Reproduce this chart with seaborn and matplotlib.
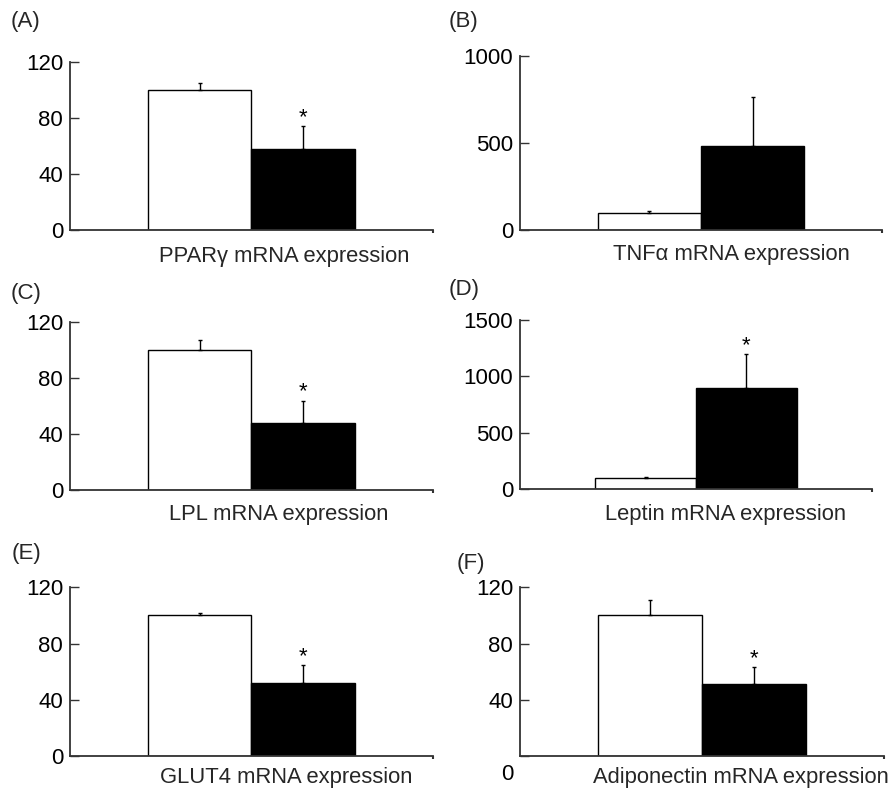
import numpy as np
import pandas as pd
import matplotlib
matplotlib.use("Agg")
import matplotlib.pyplot as plt
import matplotlib.transforms as mtransforms
import seaborn as sns

sns.set_theme(style="white")
plt.rcParams['font.family'] = ['Liberation Sans', 'DejaVu Sans']

# ---- data ----
panel_tags = ['(A)', '(B)', '(C)', '(D)', '(E)', '(F)']
genes = ['PPARγ mRNA expression', 'TNFα mRNA expression', 'LPL mRNA expression',
         'Leptin mRNA expression', 'GLUT4 mRNA expression', 'Adiponectin mRNA expression']
groups = ['Control', 'Treated']
control_mean = [100, 100, 100, 100, 100, 100]
control_err = [5, 8, 7, 4, 2, 11]
treated_mean = [58, 483, 48, 894, 52, 51]
treated_err = [16, 280, 15.5, 300, 12.5, 12]
significant = [True, False, True, True, True, True]
y_max = [120, 1000, 120, 1500, 120, 120]
y_step = [40, 500, 40, 500, 40, 40]

# ---- layout (pixels) ----
W, H = 895, 789
boxes = [  # left, right, top, bottom
    (70, 433, 61.7, 230),
    (520, 882, 56, 230),
    (70, 433, 321.7, 490),
    (520, 872, 320, 489),
    (70, 433, 587.3, 756),
    (520, 884, 587.3, 756),
]
tag_pos = [(11, 22), (449, 22), (11, 293), (449, 290), (12, 553), (457, 563)]
xlabel_pos = [(284, 261.7), (731, 260), (279, 520), (726, 520), (286, 783.5), (741, 783.5)]

fig = plt.figure(figsize=(W / 100, H / 100), dpi=100)
axis_color = '#333333'

for i in range(6):
    l, r, t, b = boxes[i]
    ax = fig.add_axes([l / W, 1 - b / H, (r - l) / W, (b - t) / H])
    df = pd.DataFrame({'group': groups, 'value': [control_mean[i], treated_mean[i]]})
    sns.barplot(data=df, x='group', y='value', hue='group', order=groups,
                palette=['white', 'black'], width=1.0, edgecolor='black',
                linewidth=1.0, errorbar=None, legend=False, ax=ax)
    means = np.array([control_mean[i], treated_mean[i]])
    errs = np.array([control_err[i], treated_err[i]])
    xpos = np.arange(len(groups))
    ax.errorbar(xpos, means, yerr=[np.zeros_like(errs), errs], fmt='none',
                ecolor='black', elinewidth=1.0, capsize=1.5, capthick=1.0, zorder=1)
    if significant[i]:
        ax.annotate('*', xy=(1, means[1] + errs[1]), xytext=(0, 2.5),
                    textcoords='offset points', ha='center', va='baseline',
                    fontsize=16, color='black')
    ax.set_xlim(-1.25, 2.25)
    ax.set_ylim(0, y_max[i])
    ax.set_yticks(np.arange(0, y_max[i] + 1, y_step[i]))
    ax.set_xticks([2.25])
    ax.set_xticklabels([''])
    ax.set_xlabel('')
    ax.set_ylabel('')
    ax.tick_params(axis='y', direction='in', length=6.5, width=1.0, color=axis_color,
                   labelsize=16, pad=5, labelcolor='black', left=True)
    ax.tick_params(axis='x', direction='out', length=2.5, width=1.5, color=axis_color, bottom=True)
    for s in ['top', 'right']:
        ax.spines[s].set_visible(False)
    for s in ['left', 'bottom']:
        ax.spines[s].set_color(axis_color)
        ax.spines[s].set_linewidth(1.3)
    ax.patch.set_alpha(0)
    if i == 5:
        fig.canvas.draw()
        lab = ax.get_yticklabels()[0]
        lab.set_transform(lab.get_transform() +
                          mtransforms.ScaledTranslation(0, -0.16, fig.dpi_scale_trans))
    # panel tag and x-label
    tx, ty = tag_pos[i]
    fig.text(tx / W, 1 - ty / H, panel_tags[i], ha='left', va='center', fontsize=16)
    lx, ly = xlabel_pos[i]
    fig.text(lx / W, 1 - ly / H, genes[i], ha='center', va='baseline', fontsize=15.8)

fig.savefig('out.png', dpi=100, facecolor='white')
